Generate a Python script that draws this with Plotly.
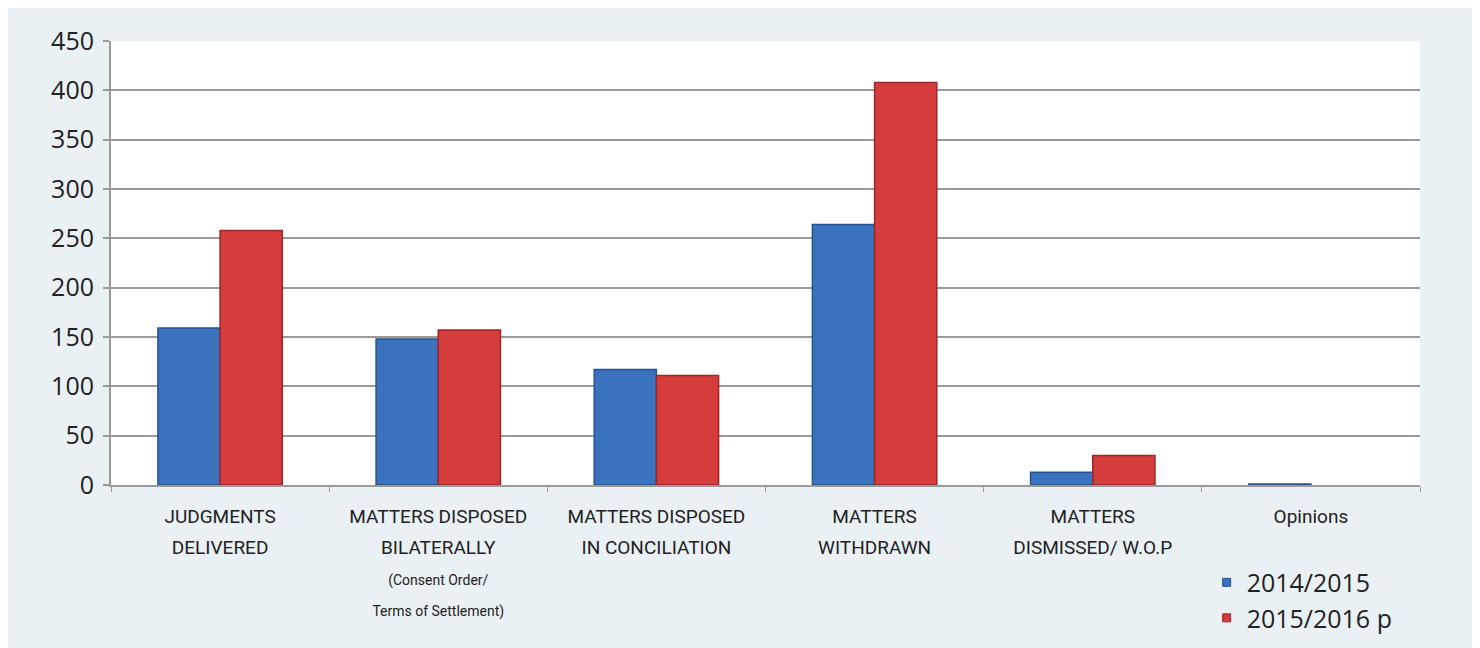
import plotly.graph_objects as go

categories = [
    "JUDGMENTS<br>DELIVERED",
    "MATTERS DISPOSED<br>BILATERALLY<br>(Consent Order/<br>Terms of Settlement)",
    "MATTERS DISPOSED<br>IN CONCILIATION",
    "MATTERS<br>WITHDRAWN",
    "MATTERS<br>DISMISSED/ W.O.P",
    "Opinions",
]
series_2014 = [159, 148, 117, 264, 13, 1]
series_2015 = [258, 157, 111, 408, 30, 0]
y_ticks = [0, 50, 100, 150, 200, 250, 300, 350, 400, 450]
names = ["2014/2015", "2015/2016 p"]


def styled(label):
    parts = label.split("<br>")
    out = []
    for i, p in enumerate(parts):
        size = 19 if i < 2 else 14
        out.append(f"<span style='font-size:{size}px'>{p}</span>")
    return "<br>".join(out)


tick_text = [styled(c) for c in categories]

fig = go.Figure()
fig.add_trace(go.Bar(
    x=categories, y=series_2014, name=names[0], showlegend=False,
    marker=dict(color="#3b72bd", line=dict(color="#27528f", width=1.5)),
))
fig.add_trace(go.Bar(
    x=categories, y=series_2015, name=names[1], showlegend=False,
    marker=dict(color="#d43d3b",
                line=dict(color="#9c2626", width=[1.5 if v > 0 else 0 for v in series_2015])),
))
# legend entries with small square markers
fig.add_trace(go.Scatter(
    x=[None], y=[None], mode="markers", name=names[0], legendgroup="a",
    marker=dict(symbol="square", size=8, color="#3b72bd", line=dict(color="#27528f", width=1)),
))
fig.add_trace(go.Scatter(
    x=[None], y=[None], mode="markers", name=names[1], legendgroup="b",
    marker=dict(symbol="square", size=8, color="#d43d3b", line=dict(color="#9c2626", width=1)),
))

fig.update_layout(
    width=1472, height=640,
    paper_bgcolor="#e9f1f5",
    plot_bgcolor="white",
    margin=dict(l=103, r=60, t=33, b=163, autoexpand=False),
    barmode="group",
    bargap=0.43,
    bargroupgap=0,
    font=dict(family="Open Sans, DejaVu Sans, sans-serif", color="#222222"),
    legend=dict(
        x=0.837, y=-0.168, xanchor="left", yanchor="top",
        font=dict(size=25, color="#222222"),
        bgcolor="rgba(0,0,0,0)",
        itemwidth=30,
        tracegroupgap=0,
    ),
    showlegend=True,
)
fig.update_yaxes(
    range=[0, 450], tickvals=y_ticks,
    tickfont=dict(size=25, color="#222222"),
    showgrid=True, gridcolor="#9a9a9a", gridwidth=2,
    showline=True, linecolor="#9a9a9a", linewidth=2,
    ticks="outside", ticklen=6, tickcolor="#9a9a9a", tickwidth=2,
    zeroline=False, automargin=False, ticklabelstandoff=4,
)
fig.update_xaxes(
    tickmode="array", tickvals=categories, ticktext=tick_text,
    tickfont=dict(size=24, color="#222222",
                  family="Roboto, Open Sans, sans-serif"),
    showline=True, linecolor="#9a9a9a", linewidth=2,
    ticks="outside", ticklen=5, tickcolor="#9a9a9a", tickson="boundaries",
    tickangle=0, ticklabelstandoff=7, automargin=False,
)

fig.write_html("out.html")
